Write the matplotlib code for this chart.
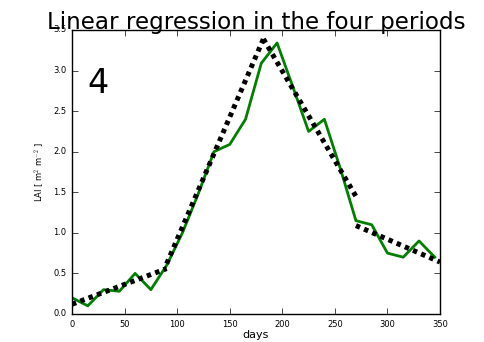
import matplotlib
matplotlib.use("Agg")
import matplotlib.pyplot as plt
import numpy as np

# measured LAI every 15 days
days = [0, 15, 30, 45, 60, 75, 90, 105, 120, 135, 150, 165, 180, 195, 210,
        225, 240, 255, 270, 285, 300, 315, 330, 345]
lai = [0.20, 0.10, 0.30, 0.28, 0.50, 0.30, 0.60, 1.00, 1.48, 2.00, 2.09, 2.40,
       3.09, 3.34, 2.80, 2.25, 2.40, 1.80, 1.15, 1.10, 0.75, 0.70, 0.90, 0.70]

# fitted lines for the four periods (start / end)
fit_x = [[0, 90], [90, 182], [182, 270], [270, 350]]
fit_y = [[0.12, 0.56], [0.62, 3.39], [3.39, 1.45], [1.09, 0.64]]

plt.style.use("classic")
fig = plt.figure(figsize=(4.85, 3.42), dpi=100)
ax = fig.add_axes([0.1485, 0.0819, 0.7588, 0.8304])

ax.plot(days, lai, color="green", linewidth=2)
for xs, ys in zip(fit_x, fit_y):
    ax.plot(xs, ys, color="k", linewidth=3.6, dashes=(3.2, 3.2),
            dash_capstyle="butt")

ax.set_xlim(0, 350)
ax.set_ylim(0, 3.5)
ax.set_xticks(np.arange(0, 351, 50))
ax.set_yticks(np.arange(0, 3.51, 0.5))
ax.tick_params(labelsize=6)
ax.set_xlabel("days", fontsize=8, labelpad=1)
ax.set_ylabel("LAI [ m$^2$ m$^{-2}$ ]", fontsize=6)
ax.set_title("Linear regression in the four periods", fontsize=16.6, pad=1)
ax.text(15, 2.72, "4", fontsize=24)

fig.savefig("out.png", dpi=100)
